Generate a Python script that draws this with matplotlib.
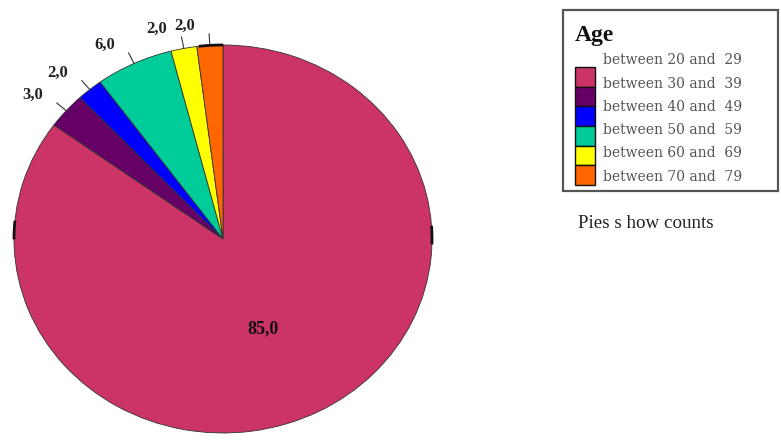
import numpy as np
import matplotlib.pyplot as plt
from matplotlib.patches import Rectangle

# age groups and counts
ages = ["between 20 and  29", "between 30 and  39", "between 40 and  49",
        "between 50 and  59", "between 60 and  69", "between 70 and  79"]
counts = [85.0, 3.0, 2.0, 6.0, 2.0, 2.0]
colors = ["#CC3366", "#660066", "#0000FF", "#00CC99", "#FFFF00", "#FF6600"]

SERIF = ["Liberation Serif", "DejaVu Serif"]
WIDE = ["DejaVu Serif"]

W, H = 781, 440
fig = plt.figure(figsize=(W / 100, H / 100), dpi=100)

# pie box in pixels (slightly wider than tall)
px_l, px_t, px_w, px_h = 14, 45, 418, 388
ax = fig.add_axes([px_l / W, 1 - (px_t + px_h) / H, px_w / W, px_h / H])
wedges, _ = ax.pie(counts, colors=colors, startangle=90, counterclock=False,
                   wedgeprops=dict(edgecolor="#333333", linewidth=0.6))
ax.set_aspect("auto")
ax.set_xlim(-1, 1)
ax.set_ylim(-1, 1)
ax.axis("off")

sx = 2 / px_w   # data units per pixel
sy = 2 / px_h

for i, w in enumerate(wedges):
    mid = np.deg2rad((w.theta1 + w.theta2) / 2)
    c, s = np.cos(mid), np.sin(mid)
    txt = ("%.1f" % counts[i]).replace(".", ",")
    if counts[i] > 50:
        ax.text(0.52 * c - 9 * sx, 0.52 * s, txt, ha="center", va="center",
                fontsize=13, fontweight="bold", family=SERIF, color="#111111")
        continue
    # short tick outside the edge, value to the upper left of it
    ax.plot([c, 1.06 * c], [s, 1.06 * s], color="#333333", lw=0.8,
            clip_on=False)
    ax.text(1.06 * c - 14 * sx, 1.06 * s + 8 * sy, txt, ha="right",
            va="center", fontsize=12, fontweight="bold", family=SERIF,
            color="#222222", clip_on=False)

# dark spots along the rim
for a0, a1 in [(175, 179.7), (-1.2, 3.5), (90.3, 96.3)]:
    t = np.deg2rad(np.linspace(a0, a1, 20))
    ax.plot(np.cos(t), np.sin(t), color="#111111", lw=2, clip_on=False)

# legend panel drawn by hand
lg = fig.add_axes([0, 0, 1, 1])
lg.set_xlim(0, W)
lg.set_ylim(H, 0)
lg.axis("off")
lg.add_patch(Rectangle((563, 10), 215, 181, fill=False,
                       edgecolor="#555555", lw=1.6))
lg.text(575, 35, "Age", fontsize=17, fontweight="bold", family=SERIF,
        va="center", ha="left", color="#111111")
row_y = [60, 84, 107, 130, 153, 177]
for i, lab in enumerate(ages):
    lg.text(603, row_y[i], lab, fontsize=10, family=WIDE, va="center",
            ha="left", color="#555555")
    lg.add_patch(Rectangle((575, 67 + 19.7 * i), 20, 19.7,
                           facecolor=colors[i], edgecolor="#111111", lw=1.0))

lg.text(578, 223, "Pies s how counts", fontsize=13.7, family=SERIF,
        va="center", ha="left", color="#222222")

fig.savefig("out.png", dpi=100)
